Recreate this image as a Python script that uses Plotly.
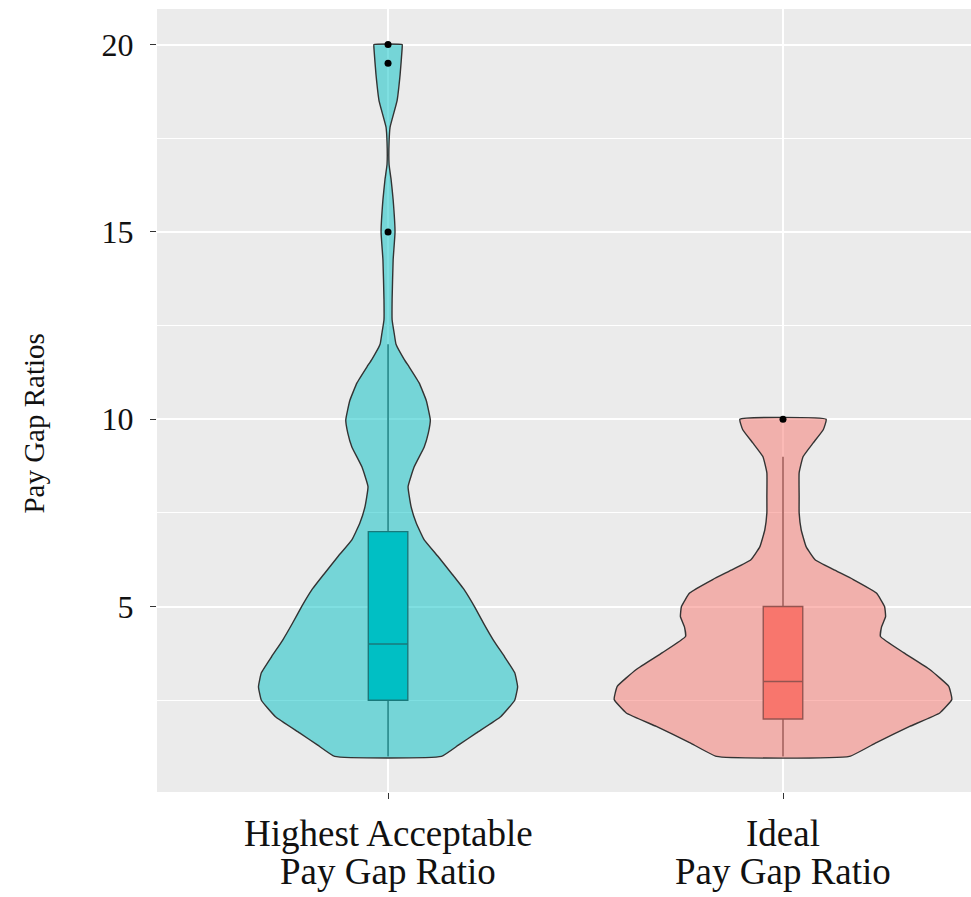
import plotly.graph_objects as go

# Category positions and labels
cat_pos = [1, 2]
label_lines = [["Highest Acceptable", "Pay Gap Ratio"], ["Ideal", "Pay Gap Ratio"]]

# Kernel density outline of each group (value level, relative density)
hi_levels = [1.0, 1.3, 1.63, 2.06, 2.5, 2.86, 3.23, 3.66, 4.1, 4.56, 5.0, 5.44,
             5.89, 6.33, 6.78, 7.23, 7.66, 8.2, 8.73, 9.26, 9.63, 9.98, 10.5,
             10.97, 11.4, 11.6, 12.0, 12.3, 12.65, 13.2, 14.25, 15.0, 15.86, 16.4,
             16.8, 17.4, 17.8, 18.5, 19.2, 19.9, 20.0]
hi_density = [0.314, 0.414, 0.521, 0.663, 0.746, 0.763, 0.746, 0.686, 0.621, 0.562,
              0.509, 0.450, 0.373, 0.296, 0.213, 0.166, 0.136, 0.118, 0.154, 0.213,
              0.237, 0.249, 0.225, 0.183, 0.124, 0.095, 0.047, 0.036, 0.024, 0.024,
              0.030, 0.041, 0.030, 0.018, 0.006, 0.006, 0.012, 0.053, 0.071, 0.083,
              0.083]

ideal_levels = [1.0, 1.37, 1.80, 2.16, 2.52, 2.87, 3.32, 3.77, 4.20, 4.45, 4.73,
                5.0, 5.36, 5.72, 5.99, 6.25, 6.6, 7.05, 7.5, 7.94, 8.57, 9.0, 9.37,
                9.72, 10.0]
ideal_density = [0.391, 0.550, 0.746, 0.923, 0.994, 0.976, 0.864, 0.710, 0.574,
                 0.580, 0.604, 0.598, 0.550, 0.414, 0.296, 0.189, 0.136, 0.107,
                 0.095, 0.095, 0.095, 0.118, 0.178, 0.237, 0.254]

# Box plot summaries
q1 = [2.5, 2.0]
median = [4.0, 3.0]
q3 = [7.0, 5.0]
lower_whisker = [1.0, 1.0]
upper_whisker = [12.0, 9.0]

# Outlying responses
outlier_pos = [1, 1, 1, 2]
outlier_val = [20.0, 19.5, 15.0, 10.0]

violin_fill = ["rgba(0,191,196,0.5)", "rgba(248,118,109,0.5)"]
box_fill = ["#00BFC4", "#F8766D"]
outline = "#333333"
half_width = 0.43

fig = go.Figure()

for pos, levels, dens, fill in zip(cat_pos, [hi_levels, ideal_levels],
                                   [hi_density, ideal_density], violin_fill):
    right = [pos + d * half_width for d in dens]
    left = [pos - d * half_width for d in dens]
    xs = right + left[::-1] + [right[0]]
    ys = levels + levels[::-1] + [levels[0]]
    fig.add_trace(go.Scatter(
        x=xs, y=ys, mode="lines", fill="toself", fillcolor=fill,
        line=dict(color=outline, width=1.4, shape="spline", smoothing=0.35),
        hoverinfo="skip", showlegend=False))

for i, pos in enumerate(cat_pos):
    fig.add_trace(go.Box(
        x=[pos], q1=[q1[i]], median=[median[i]], q3=[q3[i]],
        lowerfence=[lower_whisker[i]], upperfence=[upper_whisker[i]],
        width=0.1, whiskerwidth=0, fillcolor=box_fill[i],
        line=dict(color=outline, width=1.4), boxpoints=False,
        showlegend=False))

fig.add_trace(go.Scatter(
    x=outlier_pos, y=outlier_val, mode="markers",
    marker=dict(color="black", size=7), showlegend=False, hoverinfo="skip"))

serif = "Liberation Serif, Times New Roman, serif"

for pos, lines in zip(cat_pos, label_lines):
    for k, txt in enumerate(lines):
        fig.add_annotation(
            x=pos, xref="x", y=0, yref="paper", yanchor="middle",
            yshift=-41 - 38 * k, text=txt, showarrow=False,
            font=dict(family=serif, size=37, color="#111111"))

fig.add_annotation(
    x=0, xref="paper", xshift=-123, y=(792.4 - 424) / 783, yref="paper",
    text="Pay Gap Ratios", textangle=-90, showarrow=False,
    xanchor="center", yanchor="middle",
    font=dict(family=serif, size=29, color="#111111"))

fig.update_layout(
    width=971, height=897,
    margin=dict(l=157, r=0, t=9, b=105),
    paper_bgcolor="white", plot_bgcolor="#EBEBEB",
    boxmode="overlay",
    xaxis=dict(range=[0.415, 2.476], tickvals=cat_pos, showticklabels=False,
               ticks="outside", ticklen=6, tickcolor=outline, tickwidth=1,
               showgrid=True, gridcolor="white", gridwidth=1.6,
               zeroline=False, showline=False),
    yaxis=dict(range=[0.05, 20.95], tickvals=[5, 10, 15, 20],
               ticks="outside", ticklen=6, tickcolor=outline, tickwidth=1,
               ticklabelstandoff=10,
               tickfont=dict(family=serif, size=32, color="#111111"),
               showgrid=True, gridcolor="white", gridwidth=1.6,
               minor=dict(tickvals=[2.5, 7.5, 12.5, 17.5], showgrid=True,
                          gridcolor="white", gridwidth=0.8, ticks=""),
               zeroline=False, showline=False),
)

fig.write_html("out.html")
